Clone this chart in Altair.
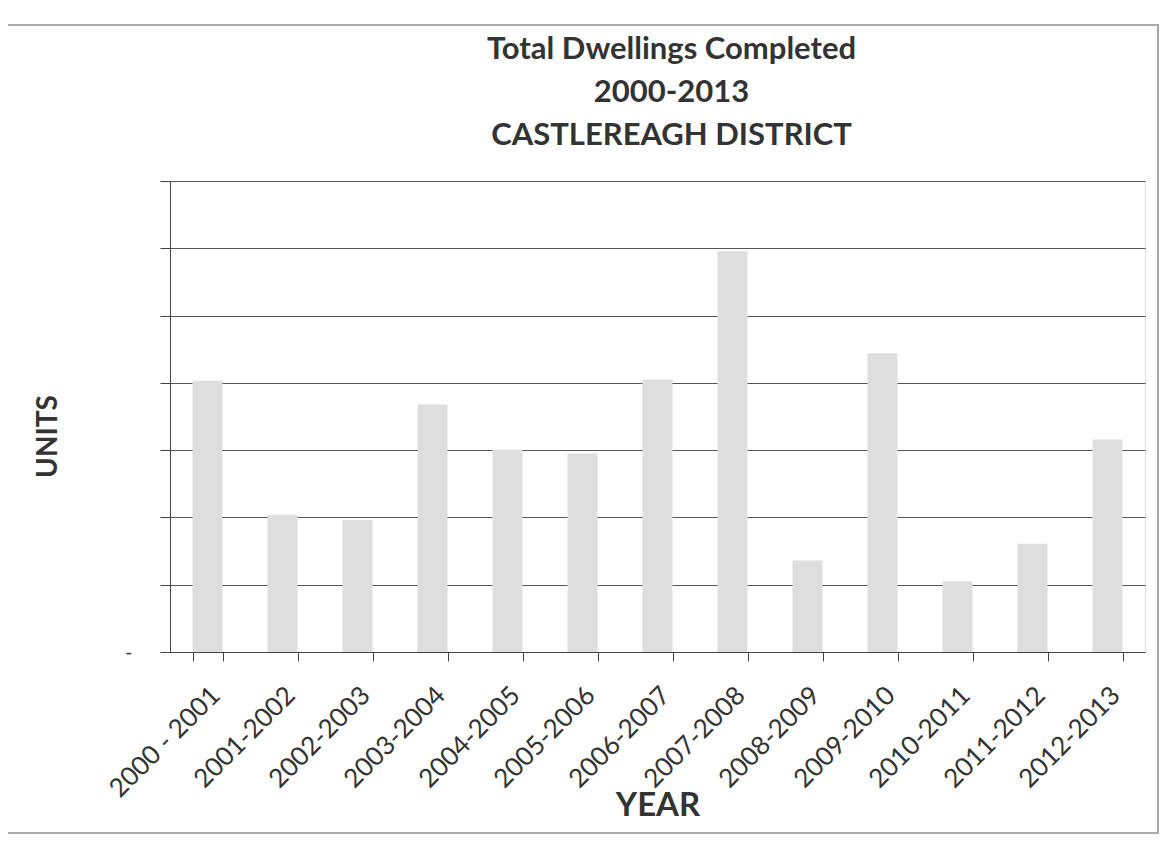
import altair as alt
import pandas as pd

years = ["2000 - 2001", "2001-2002", "2002-2003", "2003-2004", "2004-2005",
         "2005-2006", "2006-2007", "2007-2008", "2008-2009", "2009-2010",
         "2010-2011", "2011-2012", "2012-2013"]
units = [403, 204, 196, 368, 301, 295, 405, 596, 136, 444, 105, 161, 316]
y_ticks = [0, 100, 200, 300, 400, 500, 600, 700]

df = pd.DataFrame({"year": years, "units": units})

FONT = "Lato"
TXT = "#333333"

bars = alt.Chart(df).mark_bar(color="#dedede").encode(
    x=alt.X("year:N", sort=years,
            scale=alt.Scale(paddingInner=0.6, paddingOuter=0.3),
            axis=alt.Axis(title="YEAR", labelAngle=-45, labelAlign="right",
                          labelBaseline="middle", labelFontSize=26, labelFont=FONT,
                          labelColor=TXT, labelPadding=30, labelOffset=8,
                          tickBand="extent",
                          tickSize=9, tickColor="#444", domainColor="#444",
                          titleFont=FONT, titleFontSize=33, titleFontWeight="bold",
                          titleColor=TXT, titlePadding=-12, grid=False, labelOverlap=False)),
    y=alt.Y("units:Q", scale=alt.Scale(domain=[0, 700], nice=False),
            axis=alt.Axis(title="UNITS", values=y_ticks, grid=True, gridColor="#555",
                          gridWidth=1.2, tickSize=10, tickColor="#444", domainColor="#444",
                          labelExpr="datum.value == 0 ? '-' : ''", labelFontSize=20,
                          labelFont=FONT, labelColor=TXT, labelPadding=28,
                          titleFont=FONT, titleFontSize=28, titleFontWeight="bold",
                          titleColor=TXT, titlePadding=62, titleY=255)),
)

frame = alt.Chart(df).mark_rect(fill=None, stroke="#aaaaaa", strokeWidth=1.5).encode(
    x=alt.value(-164), x2=alt.value(988), y=alt.value(-156), y2=alt.value(652)
)

chart = alt.layer(frame, bars).properties(
    width=975, height=471,
    padding={"left": 162, "top": 173, "right": 16, "bottom": 190},
    autosize=alt.AutoSizeParams(type="none"),
    title=alt.Title(["Total Dwellings Completed", "2000-2013", "CASTLEREAGH DISTRICT"],
                    font=FONT, fontSize=31, fontWeight="bold", color=TXT,
                    lineHeight=43, anchor="middle", baseline="top", offset=-128,
                    dx=14, frame="group"),
).configure_view(stroke=None).configure(background="white")

chart.save("out.html", embed_options={"renderer": "svg", "actions": False})
